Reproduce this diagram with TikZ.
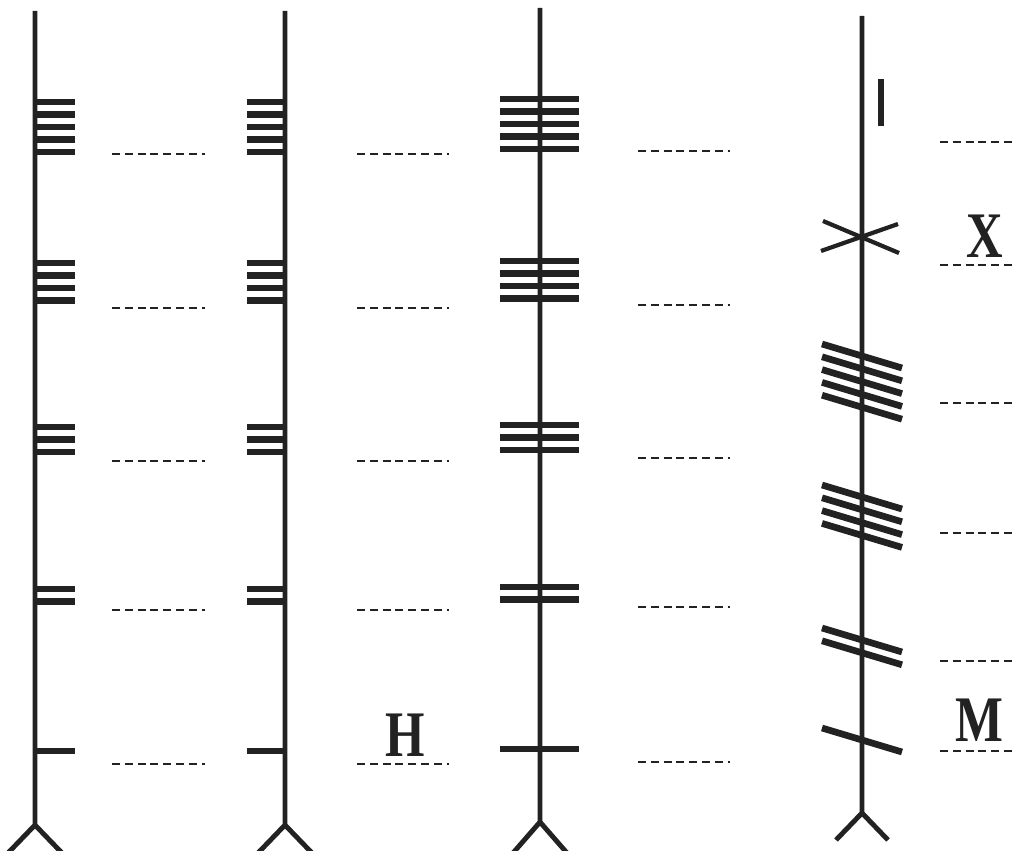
\documentclass[tikz,border=0pt]{standalone}
\usepackage{fontspec}
\usepackage{tikz}
\usetikzlibrary{positioning}
\newfontfamily\glyphfont{Liberation Serif}[FakeStretch=0.78]
\definecolor{ink}{HTML}{222222}
\tikzset{
  stem/.style={line width=2.8pt, draw=ink},
  score/.style={line width=3.8pt, draw=ink},
  guide/.style={line width=0.95pt, draw=ink, dash pattern=on 4.5pt off 2.8pt},
  glyph/.style={font=\glyphfont\bfseries\fontsize{37}{37}\selectfont, text=ink, inner sep=0pt}
}

\begin{document}
\begin{tikzpicture}[x=0.02cm, y=-0.02cm]
  \useasboundingbox (0,0) rectangle (1017,851);

  % stems with their feet
  \draw[stem] (35,11) -- (35,825) -- (8,853);
  \draw[stem] (35,825) -- (62,853);
  \draw[stem] (285,11) -- (285,825) -- (258,853);
  \draw[stem] (285,825) -- (312,853);
  \draw[stem] (540,8) -- (540,822) -- (513,853);
  \draw[stem] (540,822) -- (567,853);
  \draw[stem] (862,16) -- (862,813) -- (836,840);
  \draw[stem] (862,813) -- (888,840);

  % right of the stem
  \foreach \y/\n in {102/5, 263/4, 427/3, 589/2, 751/1}
    \foreach \k in {1,...,\n}
      \draw[score] (36,{\y+12.5*(\k-1)}) -- (75,{\y+12.5*(\k-1)});

  % left of the stem
  \foreach \y/\n in {102/5, 263/4, 427/3, 589/2, 751/1}
    \foreach \k in {1,...,\n}
      \draw[score] (247,{\y+12.5*(\k-1)}) -- (284,{\y+12.5*(\k-1)});

  % across the stem
  \foreach \y/\n in {99/5, 261/4, 425/3, 587/2, 749/1}
    \foreach \k in {1,...,\n}
      \draw[score] (500,{\y+12.5*(\k-1)}) -- (579,{\y+12.5*(\k-1)});

  % slanted across the stem
  \foreach \c/\n in {356/5, 497/4, 640/2, 740/1}
    \foreach \k in {1,...,\n}
      \draw[score] (822,{\c+12.8*(\k-1)-12}) -- (902,{\c+12.8*(\k-1)+12});

  % I and the cross
  \draw[stem, line width=3pt] (881,79) -- (881,126);
  \draw[stem, line width=2.4pt] (823,221) -- (899,253);
  \draw[stem, line width=2.4pt] (821,251) -- (898,224);

  % blanks to fill in
  \foreach \y in {154, 308, 461, 610, 764}
    \draw[guide] (112,\y) -- (205,\y);
  \foreach \y in {154, 308, 461, 610, 764}
    \draw[guide] (357,\y) -- (449,\y);
  \foreach \y in {151, 305, 458, 607, 762}
    \draw[guide] (638,\y) -- (730,\y);
  \foreach \y in {142, 265, 403, 533, 661, 751}
    \draw[guide] (940,\y) -- (1017,\y);

  % filled-in letters
  \node[glyph] (letH) at (405,735) {H};
  \node[glyph] (letX) at (985,236) {X};
  \node[glyph] (letM) at (979,720) {M};
\end{tikzpicture}
\end{document}
